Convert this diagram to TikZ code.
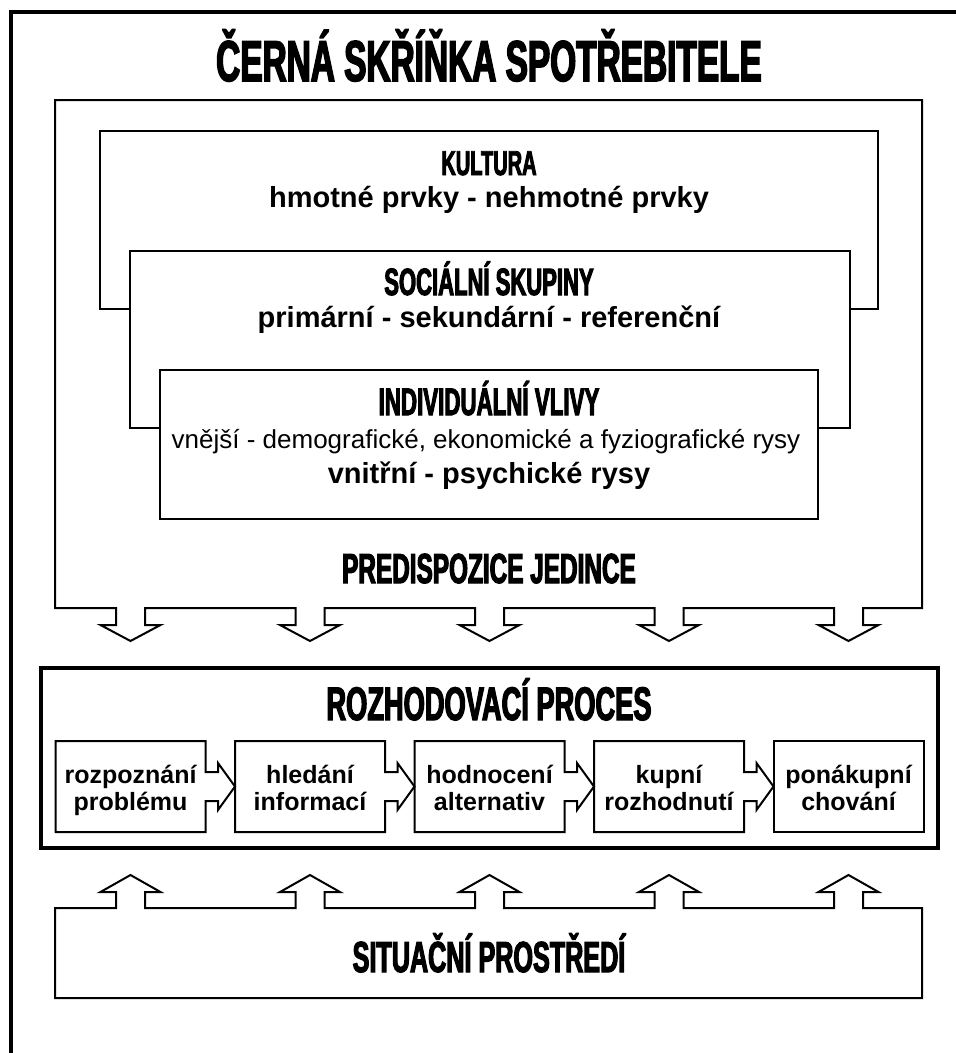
\documentclass[tikz,border=0pt]{standalone}
\usepackage{fontspec}
\setmainfont{Liberation Sans}
% condensed heavy face for the headings
\newfontfamily\headfont[FakeStretch=0.58,FakeBold=2.6]{Liberation Sans}

\tikzset{
  thinline/.style={line width=2pt, draw=black},
  thickline/.style={line width=4.5pt, draw=black},
  head/.style={anchor=base, inner sep=0pt, font=\headfont\bfseries\fontsize{#1}{#1}\selectfont},
  boldtxt/.style={anchor=base, inner sep=0pt, font=\bfseries\fontsize{29}{31}\selectfont},
  plaintxt/.style={anchor=base, inner sep=0pt, font=\fontsize{26}{28}\selectfont},
  proctxt/.style={anchor=base, inner sep=0pt, font=\bfseries\fontsize{25}{27}\selectfont},
}

\begin{document}
\begin{tikzpicture}[x=1pt, y=-1pt, line join=miter]
\useasboundingbox (0,0) rectangle (956,1053);
\fill[white] (0,0) rectangle (956,1053);

% outer frame (left and top edges)
\draw[line width=4pt] (11,1053) -- (11,12) -- (956,12);

\node[head=57.6] (title) at (489,81) {ČERNÁ SKŘÍŇKA SPOTŘEBITELE};

% predisposition box with five downward arrows
\draw[thinline, fill=white] (55,100) -- (922,100) -- (922,608)
  \foreach \c in {848.5,669,489.5,310,130.5} {
    -- (\c+14.5,608) -- (\c+14.5,625) -- (\c+30,625) -- (\c,641)
    -- (\c-30,625) -- (\c-14.5,625) -- (\c-14.5,608) }
  -- (55,608) -- cycle;

% nested influence boxes
\draw[thinline, fill=white] (100,131) rectangle (878,309);
\draw[thinline, fill=white] (130,251) rectangle (850,428);
\draw[thinline, fill=white] (160,370) rectangle (818,519);

\node[head=34.5] (kult) at (489,175) {KULTURA};
\node[boldtxt] (kultt) at (489,207) {hmotné prvky - nehmotné prvky};
\node[head=38] (soc) at (489,295) {SOCIÁLNÍ SKUPINY};
\node[boldtxt] (soct) at (489,327) {primární - sekundární - referenční};
\node[head=38.5] (ind) at (489,415) {INDIVIDUÁLNÍ VLIVY};
\node[plaintxt] (indt1) at (486,448) {vnější - demografické, ekonomické a fyziografické rysy};
\node[boldtxt] (indt2) at (489,483) {vnitřní - psychické rysy};
\node[head=42] (pred) at (489,583) {PREDISPOZICE JEDINCE};

% decision process
\draw[thickline] (41,668) rectangle (938,848);
\node[head=47] (proc) at (489,720) {ROZHODOVACÍ PROCES};

\foreach \c in {130.5,310,489.5,669} {
  \draw[thinline] (\c-75,741) -- (\c+75,741) -- (\c+75,772) -- (\c+87.5,772)
    -- (\c+87.5,763) -- (\c+104.5,786.5) -- (\c+87.5,810) -- (\c+87.5,801)
    -- (\c+75,801) -- (\c+75,832) -- (\c-75,832) -- cycle;
}
\draw[thinline] (773.5,741) rectangle (923.5,832);

\node[proctxt] (s1a) at (130.5,783) {rozpoznání};
\node[proctxt] (s1b) at (130.5,810) {problému};
\node[proctxt] (s2a) at (310,783) {hledání};
\node[proctxt] (s2b) at (310,810) {informací};
\node[proctxt] (s3a) at (489.5,783) {hodnocení};
\node[proctxt] (s3b) at (489.5,810) {alternativ};
\node[proctxt] (s4a) at (669,783) {kupní};
\node[proctxt] (s4b) at (669,810) {rozhodnutí};
\node[proctxt] (s5a) at (848.5,783) {ponákupní};
\node[proctxt] (s5b) at (848.5,810) {chování};

% situational environment with five upward arrows
\draw[thinline] (55,998) -- (55,908)
  \foreach \c in {130.5,310,489.5,669,848.5} {
    -- (\c-14.5,908) -- (\c-14.5,892) -- (\c-30,892) -- (\c,875)
    -- (\c+30,892) -- (\c+14.5,892) -- (\c+14.5,908) }
  -- (922,908) -- (922,998) -- cycle;
\node[head=43.4] (sit) at (489,972) {SITUAČNÍ PROSTŘEDÍ};
\end{tikzpicture}
\end{document}
